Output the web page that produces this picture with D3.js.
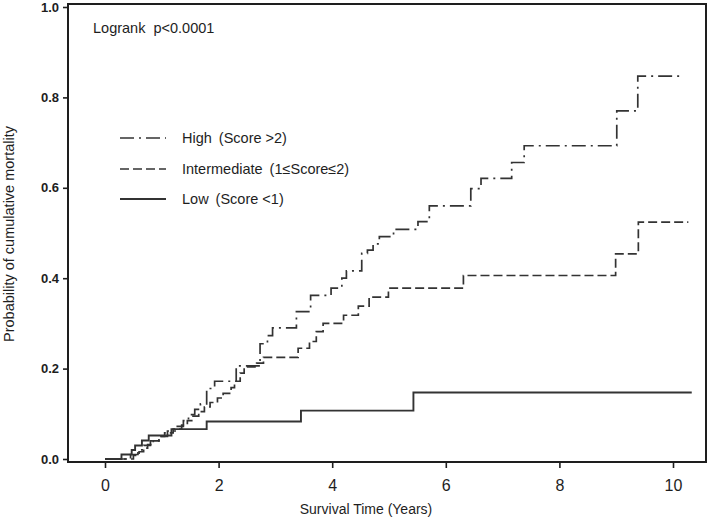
<!DOCTYPE html>
<html>
<head>
<meta charset="utf-8">
<script src="https://cdn.jsdelivr.net/npm/d3@7/dist/d3.min.js"></script>
<style>
  html, body { margin: 0; padding: 0; background: #fff; }
  svg { display: block; font-family: Arial, "Liberation Sans", Helvetica, sans-serif; }
</style>
</head>
<body>
<svg id="chart" width="709" height="519"></svg>
<script>
// ---- data ----
const seriesNames = ["High (Score >2)", "Intermediate (1≤Score≤2)", "Low (Score <1)"];

const highTimes = [0, 0.45, 0.58, 0.68, 0.80, 0.95, 1.10, 1.25, 1.38, 1.47, 1.58, 1.68, 1.79, 1.93, 2.31, 2.73, 2.86, 2.95, 3.37, 3.62, 3.98, 4.17, 4.25, 4.52, 4.62, 4.72, 4.83, 5.08, 5.51, 5.71, 6.44, 6.62, 7.16, 7.38, 9.01, 9.38, 10.18];
const highProbs = [0, 0.010, 0.020, 0.030, 0.040, 0.050, 0.062, 0.072, 0.085, 0.098, 0.110, 0.122, 0.156, 0.172, 0.206, 0.255, 0.273, 0.290, 0.326, 0.362, 0.378, 0.400, 0.416, 0.455, 0.462, 0.476, 0.492, 0.508, 0.525, 0.560, 0.598, 0.621, 0.656, 0.693, 0.770, 0.847, 0.847];

const interTimes = [0, 0.50, 0.60, 0.68, 0.75, 0.85, 0.95, 1.05, 1.20, 1.35, 1.45, 1.55, 1.65, 1.75, 1.85, 1.98, 2.08, 2.22, 2.28, 2.38, 2.45, 2.67, 2.79, 3.40, 3.60, 3.72, 3.84, 4.20, 4.46, 4.65, 4.99, 6.31, 8.99, 9.39, 10.27];
const interProbs = [0, 0.008, 0.016, 0.024, 0.032, 0.040, 0.050, 0.058, 0.066, 0.075, 0.085, 0.095, 0.105, 0.115, 0.125, 0.135, 0.145, 0.158, 0.172, 0.190, 0.204, 0.212, 0.225, 0.245, 0.260, 0.282, 0.300, 0.318, 0.338, 0.358, 0.378, 0.406, 0.454, 0.524, 0.524];

const lowTimes = [0, 0.29, 0.47, 0.53, 0.65, 0.77, 1.17, 1.79, 3.45, 5.43, 10.33];
const lowProbs = [0, 0.010, 0.020, 0.030, 0.041, 0.052, 0.066, 0.083, 0.107, 0.147, 0.147];

const xTicks = [0, 2, 4, 6, 8, 10];
const yTicks = [0.0, 0.2, 0.4, 0.6, 0.8, 1.0];
const annotation = "Logrank  p<0.0001";
const xTitle = "Survival Time (Years)";
const yTitle = "Probability of cumulative mortality";

// ---- layout ----
const svg = d3.select("#chart");
const frame = { left: 68, right: 706, top: 4, bottom: 462 };
const x = d3.scaleLinear().domain([0, 10]).range([105, 673]);
const y = d3.scaleLinear().domain([0, 1]).range([459, 7]);

const ink = "#1e1e1e";
const lineInk = "#333333";

// frame
svg.append("rect")
  .attr("x", frame.left).attr("y", frame.top)
  .attr("width", frame.right - frame.left).attr("height", frame.bottom - frame.top)
  .attr("fill", "none").attr("stroke", ink).attr("stroke-width", 2);

// x axis
const gx = svg.append("g").attr("transform", `translate(0,${frame.bottom})`)
  .call(d3.axisBottom(x).tickValues(xTicks).tickSize(6).tickPadding(12).tickFormat(d3.format("d")));
gx.select(".domain").remove();
gx.selectAll(".tick line").attr("stroke", ink).attr("stroke-width", 1.6);
gx.selectAll(".tick text").attr("fill", ink).attr("font-size", 16).attr("font-family", "Arial, 'Liberation Sans', sans-serif");

// y axis
const gy = svg.append("g").attr("transform", `translate(${frame.left},0)`)
  .call(d3.axisLeft(y).tickValues(yTicks).tickSize(5).tickPadding(4).tickFormat(d3.format(".1f")));
gy.select(".domain").remove();
gy.selectAll(".tick line").attr("stroke", ink).attr("stroke-width", 1.6);
gy.selectAll(".tick text").attr("fill", ink).attr("font-size", 13).attr("font-weight", "bold").attr("font-family", "Arial, 'Liberation Sans', sans-serif");

// titles
svg.append("text").attr("x", 366).attr("y", 514).attr("text-anchor", "middle")
  .attr("font-size", 14).attr("fill", ink).text(xTitle);
svg.append("text").attr("transform", `translate(14,234) rotate(-90)`).attr("text-anchor", "middle")
  .attr("font-size", 14.5).attr("fill", ink).text(yTitle);

// annotation
svg.append("text").attr("x", 93).attr("y", 33).attr("font-size", 14.5).attr("fill", ink)
  .style("white-space", "pre").attr("xml:space", "preserve").text(annotation);

// curves
const styles = [
  { dash: "14,5,2,5", width: 1.7 },
  { dash: "9,4", width: 1.7 },
  { dash: null, width: 1.9 }
];
const series = [
  highTimes.map((t, i) => [t, highProbs[i]]),
  interTimes.map((t, i) => [t, interProbs[i]]),
  lowTimes.map((t, i) => [t, lowProbs[i]])
];
const line = d3.line().x(d => x(d[0])).y(d => y(d[1])).curve(d3.curveStepAfter);
series.forEach((s, i) => {
  svg.append("path").datum(s)
    .attr("d", line)
    .attr("fill", "none")
    .attr("stroke", lineInk)
    .attr("stroke-width", styles[i].width)
    .attr("stroke-dasharray", styles[i].dash);
});

// legend
const legendY = [138, 169, 199];
const legendLabels = [["High", "(Score >2)"], ["Intermediate", "(1≤Score≤2)"], ["Low", "(Score <1)"]];
legendLabels.forEach((lab, i) => {
  svg.append("line").attr("x1", 120).attr("x2", 166).attr("y1", legendY[i]).attr("y2", legendY[i])
    .attr("stroke", lineInk).attr("stroke-width", styles[i].width)
    .attr("stroke-dasharray", styles[i].dash);
  const t = svg.append("text").attr("x", 182).attr("y", legendY[i] + 5).attr("font-size", 14.5).attr("fill", ink);
  t.append("tspan").text(lab[0]);
  t.append("tspan").attr("dx", 7).text(lab[1]);
});
</script>
</body>
</html>
